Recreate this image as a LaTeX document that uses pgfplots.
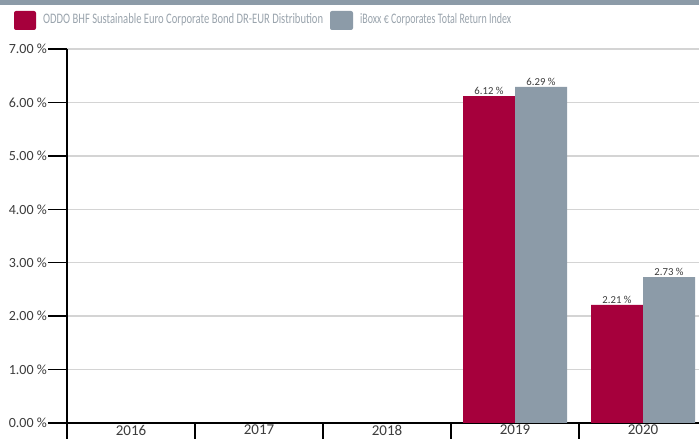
\documentclass[border=0pt]{standalone}
\usepackage{fontspec}
\setmainfont{Carlito}
\usepackage{pgfplots}
\pgfplotsset{compat=1.18}
\usepackage{graphicx}
\definecolor{oddored}{HTML}{A6003C}
\definecolor{iboxgray}{HTML}{8C9BA8}
\definecolor{legtext}{HTML}{9AA4AD}
\definecolor{ticktext}{HTML}{3C3C3C}
\definecolor{gridgray}{HTML}{D4D4D4}
\begin{document}
\begin{tikzpicture}
\useasboundingbox (0pt,0pt) rectangle (699pt,439pt);
\fill[white] (0pt,0pt) rectangle (699pt,439pt);
\fill[iboxgray] (0pt,434pt) rectangle (699pt,439pt);
\fill[oddored, rounded corners=2pt] (14pt,409pt) rectangle (36pt,428pt);
\node[anchor=west, inner sep=0pt, text=legtext] at (43pt,419pt) {\resizebox{280pt}{\height}{\fontsize{14.5pt}{16pt}\selectfont ODDO BHF Sustainable Euro Corporate Bond DR-EUR Distribution}};
\fill[iboxgray, rounded corners=2pt] (330pt,409pt) rectangle (353pt,428pt);
\node[anchor=west, inner sep=0pt, text=legtext] at (360pt,419pt) {\resizebox{151pt}{\height}{\fontsize{14.5pt}{16pt}\selectfont iBoxx € Corporates Total Return Index}};
\begin{axis}[
  at={(131pt,16pt)}, anchor=origin, scale only axis,
  width=632pt, height=374pt,
  xmin=-0.5, xmax=4.4375, ymin=0, ymax=7,
  ybar=0pt, bar width=52pt,
  axis x line=bottom, axis y line=left,
  axis line style={-, line width=1.5pt, black},
  ytick={0,...,7},
  ymajorgrids, grid style={gridgray, line width=1.3pt},
  tick align=outside, major tick length=19pt, minor tick length=18pt,
  every tick/.style={black, line width=1.5pt},
  xtick={0,...,4}, xticklabels={2016,2017,2018,2019,2020},
  minor xtick={-0.5,0.5,1.5,2.5,3.5},
  major x tick style={draw=none},
  xticklabel style={font=\fontsize{15pt}{15pt}\selectfont, text=ticktext, inner sep=0pt, anchor=north, yshift=17pt},
  /pgf/number format/assume math mode=true,
  yticklabel={\pgfmathprintnumber[fixed,fixed zerofill,precision=2]{\tick}~\%},
  yticklabel style={font=\fontsize{14pt}{14pt}\selectfont, text=ticktext, inner sep=1pt},
  nodes near coords={\pgfmathprintnumber[fixed,fixed zerofill,precision=2]{\pgfplotspointmeta}~\%},
  nodes near coords style={font=\fontsize{10.7pt}{11pt}\selectfont, text=ticktext, inner sep=1.5pt},
]
\addplot[fill=oddored, draw=none] coordinates {(3,6.12) (4,2.21)};
\addplot[fill=iboxgray, draw=none] coordinates {(3,6.29) (4,2.73)};
\end{axis}
\end{tikzpicture}
\end{document}
